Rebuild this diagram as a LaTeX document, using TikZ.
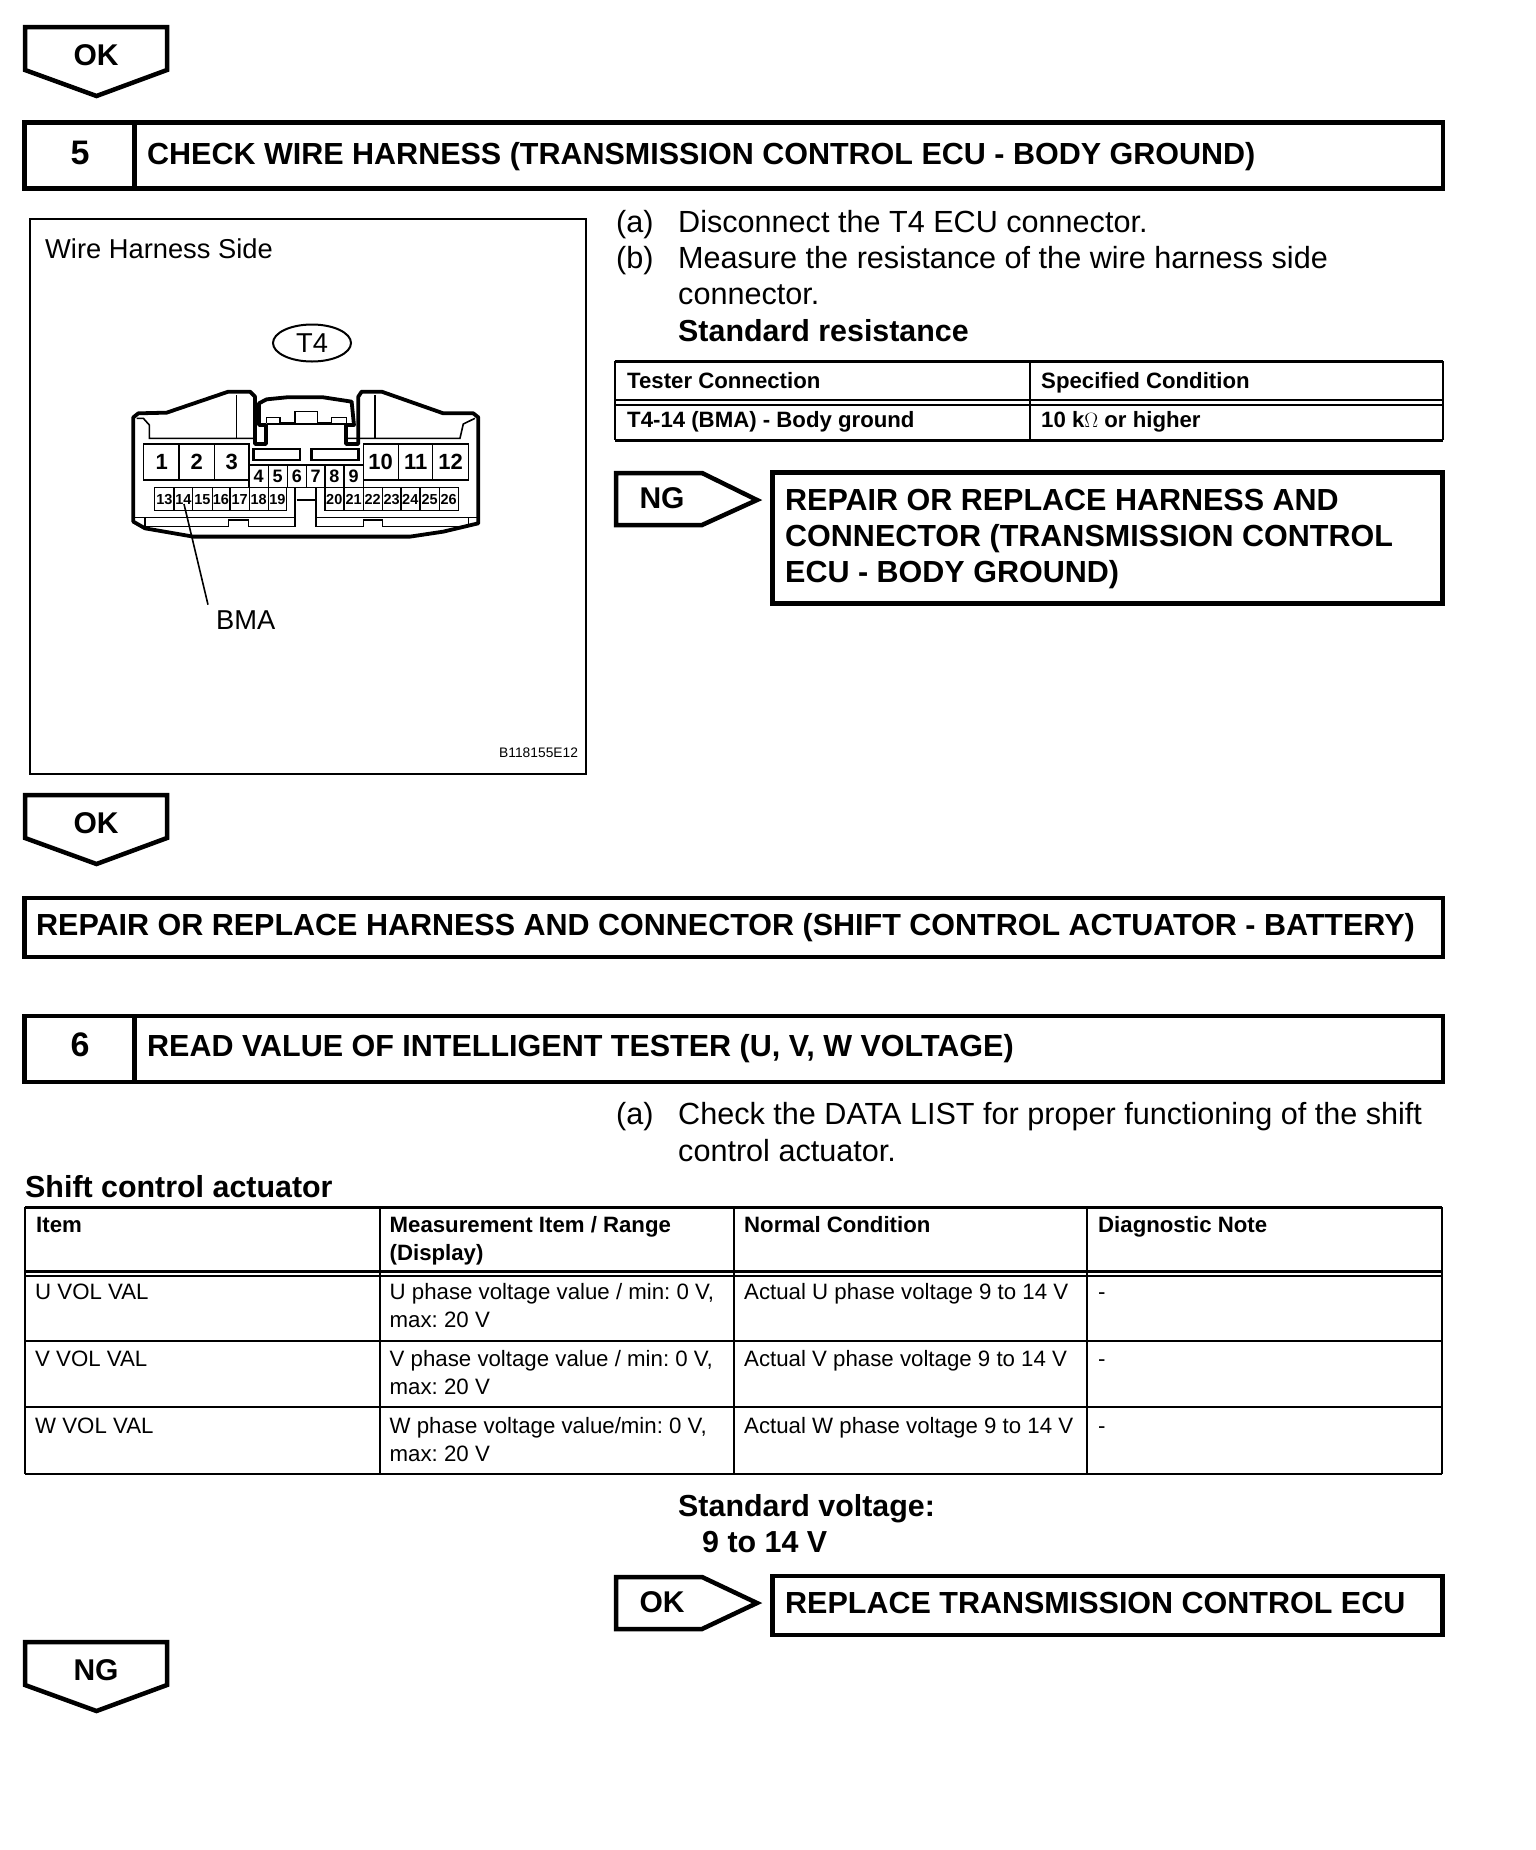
\documentclass[tikz,border=0pt]{standalone}
\usepackage{fontspec}
\usetikzlibrary{shapes.geometric}
\setmainfont{Liberation Sans}
\begin{document}
\frenchspacing
\begin{tikzpicture}[x=1pt,y=-1pt]
  \tikzset{
    tag/.style={font=\bfseries\fontsize{30}{36}\selectfont,inner sep=0pt},
    stepnum/.style={font=\bfseries\fontsize{34}{40}\selectfont,inner sep=0pt},
    boxtitle/.style={font=\bfseries\fontsize{30.5}{36}\selectfont,anchor=base west,inner sep=0pt},
    instr/.style={font=\fontsize{30.6}{36}\selectfont,anchor=base west,inner sep=0pt},
    instrbold/.style={font=\bfseries\fontsize{30.4}{36}\selectfont,anchor=base west,inner sep=0pt},
    figtext/.style={font=\fontsize{27.3}{32}\selectfont,anchor=base west,inner sep=0pt},
    cellhead/.style={font=\bfseries\fontsize{22.2}{26}\selectfont,anchor=base west,inner sep=0pt},
    cellbody/.style={font=\fontsize{22.25}{26}\selectfont,anchor=base west,inner sep=0pt},
    thickbox/.style={draw=black,line width=4.5pt},
    tabheavy/.style={draw=black,line width=3pt},
    tabthin/.style={draw=black,line width=2pt},
    wire/.style={draw=black,line width=1.6pt},
    shell/.style={draw=black,line width=3.8pt,line join=round},
    pinbig/.style={font=\bfseries\fontsize{22}{24}\selectfont,inner sep=0pt},
    pinmid/.style={font=\bfseries\fontsize{18}{20}\selectfont,inner sep=0pt},
    pinsmall/.style={font=\bfseries\fontsize{14.5}{16}\selectfont,inner sep=0pt},
  }
  \useasboundingbox[fill=white] (0,0) rectangle (1536,1850);

  % Step 5 header with the tag above it.
  \draw[thickbox] (25,27) -- (167,27) -- (167,70) -- (96.5,96) -- (25,70) -- cycle;
  \node[tag,anchor=base] (oktop) at (96,65) {OK};
  \draw[thickbox] (24.5,122.5) rectangle (1443,188.5);
  \draw[thickbox] (134.5,122.5) -- (134.5,188.5);
  \node[stepnum,anchor=base] (numfive) at (80,164) {5};
  \node[boxtitle] (titlefive) at (147,164) {CHECK WIRE HARNESS (TRANSMISSION CONTROL ECU - BODY GROUND)};

  % Picture frame.
  \draw[black,line width=2pt] (30,219) rectangle (586,774);
  \node[figtext] (wireside) at (45,258) {Wire Harness Side};
  \node[draw,ellipse,line width=2pt,minimum width=78pt,minimum height=37pt,inner sep=0pt,
    font=\fontsize{27.3}{32}\selectfont] (tfour) at (312,343) {T4};
  \node[cellbody,font=\fontsize{13.8}{15}\selectfont] (figcode) at (499,757) {B118155E12};

  % Connector, in the crop's units: origin=(110,300), 3 units per px.
  \begin{scope}[shift={(110,300)},x=0.3333pt,y=-0.3333pt]
    % Shell.
    \draw[shell] (170,338) -- (355,275) -- (420,275) -- (435,290) -- (435,432) -- (468,432)
      -- (468,375) -- (447,375) -- (447,310) -- (470,298) -- (530,292) -- (640,292)
      -- (725,305) -- (732,375) -- (708,375) -- (708,432) -- (745,432) -- (745,290)
      -- (755,275) -- (815,275) -- (1000,340) -- (1090,340) -- (1105,352) -- (1105,670)
      -- (1000,695) -- (900,710) -- (250,710) -- (105,685) -- (70,665) -- (70,352)
      -- (85,340) -- cycle;
    \draw[wire] (80,355) -- (100,355) -- (118,375) -- (118,415) -- (435,415);
    \draw[wire] (380,285) -- (380,415);
    \draw[wire] (795,285) -- (795,415);
    \draw[wire] (708,415) -- (1050,415) -- (1060,372) -- (1095,355);
    % Clip.
    \draw[wire] (470,368) -- (470,352) -- (510,352) -- (510,368) -- (555,368) -- (555,335)
      -- (622,335) -- (622,368) -- (665,368) -- (665,352) -- (710,352) -- (710,368);
    \draw[wire] (470,372) -- (710,372);
    \draw[black,line width=2.4pt] (430,447) rectangle (570,480);
    \draw[black,line width=2.4pt] (605,447) rectangle (745,480);

    % Row of large cavities.
    \draw[wire] (100,432) rectangle (417,540);
    \draw[wire] (760,432) rectangle (1075,540);
    \foreach \xx in {207,313,865,968} {
      \draw[wire] (\xx,432) -- (\xx,540);
    }
    \foreach \xx/\name in {155/1,260/2,365/3,812/10,917/11,1022/12} {
      \node[pinbig] (pin\name) at (\xx,486) {\name};
    }

    % Middle row.
    \draw[wire] (417,495) rectangle (760,562);
    \foreach \xx in {475,532,590,645,702} {
      \draw[wire] (\xx,495) -- (\xx,562);
    }
    \foreach \xx/\name in {446/4,503/5,561/6,617/7,673/8,731/9} {
      \node[pinmid] (pin\name) at (\xx,528) {\name};
    }

    % Small row.
    \draw[wire] (133,562) rectangle (530,632);
    \draw[wire] (645,562) rectangle (1045,632);
    \foreach \xx in {192,247,307,360,418,475,702,760,817,873,930,988} {
      \draw[wire] (\xx,562) -- (\xx,632);
    }
    \foreach \xx/\name in {163/13,220/14,277/15,333/16,389/17,446/18,502/19,673/20,731/21,788/22,845/23,901/24,959/25,1016/26} {
      \node[pinsmall] (pin\name) at (\xx,598) {\name};
    }

    % Lower edge.
    \draw[wire] (70,652) -- (555,652);
    \draw[wire] (618,652) -- (1105,652);
    \draw[wire] (105,655) -- (105,680) -- (355,680) -- (355,660) -- (415,660) -- (415,680)
      -- (555,680) -- (555,565);
    \draw[wire] (618,565) -- (618,680) -- (760,680) -- (760,660) -- (818,660) -- (818,680)
      -- (1075,680) -- (1075,655);
    \draw[wire] (560,600) -- (615,600);

    % Leader to the label.
    \coordinate (leadtop) at (222,612);
    \coordinate (leadend) at (294,914);
    \draw[black,line width=1.6pt] (leadtop) -- (leadend);
  \end{scope}
  \node[figtext] (bma) at (216,629) {BMA};

  % Instructions, step 5.
  \node[instr] (afive) at (616,232) {(a)};
  \node[instr] (afivetxt) at (678,232) {Disconnect the T4 ECU connector.};
  \node[instr] (bfive) at (616,268) {(b)};
  \node[instr] (bfivetxt) at (678,268) {Measure the resistance of the wire harness side};
  \node[instr] (bfivecont) at (678,304) {connector.};
  \node[instrbold] (stdres) at (678,341) {Standard resistance};

  % Tester table.
  \draw[tabheavy] (615,361.5) -- (1443,361.5);
  \draw[tabthin] (615,400) -- (1443,400);
  \draw[tabthin] (615,405) -- (1443,405);
  \draw[tabheavy] (615,440) -- (1443,440);
  \foreach \xx in {615,1030,1443} {
    \draw[tabthin] (\xx,361) -- (\xx,440);
  }
  \node[cellhead] (testhead) at (627,388) {Tester Connection};
  \node[cellhead] (spechead) at (1041,388) {Specified Condition};
  \node[cellhead] (testval) at (627,427) {T4-14 (BMA) - Body ground};
  \node[cellhead] (specval) at (1041,427) {10 k$\Omega$ or higher};

  % NG to the repair box.
  \draw[thickbox] (616,473) -- (702,473) -- (757,500) -- (702,525) -- (616,525) -- cycle;
  \node[tag,anchor=base] (ngright) at (662,508) {NG};
  \draw[thickbox] (772.5,472.5) rectangle (1442.5,603.5);
  \node[boxtitle] (repairone) at (785,510) {REPAIR OR REPLACE HARNESS AND};
  \node[boxtitle] (repairtwo) at (785,546) {CONNECTOR (TRANSMISSION CONTROL};
  \node[boxtitle] (repairthree) at (785,582) {ECU - BODY GROUND)};

  % OK tag and the battery repair bar.
  \draw[thickbox] (25,795) -- (167,795) -- (167,838) -- (96.5,864) -- (25,838) -- cycle;
  \node[tag,anchor=base] (okmid) at (96,833) {OK};
  \draw[thickbox] (24.5,898) rectangle (1443,957);
  \node[boxtitle] (repairbar) at (36,935) {REPAIR OR REPLACE HARNESS AND CONNECTOR (SHIFT CONTROL ACTUATOR - BATTERY)};

  % Step 6 header.
  \draw[thickbox] (24.5,1016) rectangle (1443,1082);
  \draw[thickbox] (134.5,1016) -- (134.5,1082);
  \node[stepnum,anchor=base] (numsix) at (80,1056) {6};
  \node[boxtitle] (titlesix) at (147,1056) {READ VALUE OF INTELLIGENT TESTER (U, V, W VOLTAGE)};
  \node[instr] (asix) at (616,1124) {(a)};
  \node[instr] (asixtxt) at (678,1124) {Check the DATA LIST for proper functioning of the shift};
  \node[instr] (asixcont) at (678,1161) {control actuator.};
  \node[instrbold] (shiftcap) at (25,1197) {Shift control actuator};

  % Data list table.
  \draw[tabheavy] (25,1207.5) -- (1442,1207.5);
  \draw[tabheavy] (25,1271) -- (1442,1271);
  \draw[tabthin] (25,1276) -- (1442,1276);
  \foreach \yy in {1341,1407,1474} {
    \draw[tabthin] (25,\yy) -- (1442,\yy);
  }
  \foreach \xx in {25,379.5,733.5,1087,1442} {
    \draw[tabthin] (\xx,1207) -- (\xx,1474);
  }
  \node[cellhead] (colone) at (36,1232) {Item};
  \node[cellhead] (coltwo) at (389.5,1232) {Measurement Item / Range};
  \node[cellhead] (coltwob) at (389.5,1260) {(Display)};
  \node[cellhead] (colthree) at (744,1232) {Normal Condition};
  \node[cellhead] (colfour) at (1098,1232) {Diagnostic Note};
  \foreach \yy/\ph in {1299/U,1366/V,1433/W} {
    \node[cellbody] (item\ph) at (35,\yy) {\ph{} VOL VAL};
    \node[cellbody] (rangeb\ph) at (389.5,\yy+28) {max: 20 V};
    \node[cellbody] (cond\ph) at (744,\yy) {Actual \ph{} phase voltage 9 to 14 V};
    \node[cellbody] (note\ph) at (1098,\yy) {-};
  }
  \node[cellbody] (rangeU) at (389.5,1299) {U phase voltage value / min: 0 V,};
  \node[cellbody] (rangeV) at (389.5,1366) {V phase voltage value / min: 0 V,};
  \node[cellbody] (rangeW) at (389.5,1433) {W phase voltage value/min: 0 V,};

  % Standard voltage and the replace box.
  \node[instrbold] (stdvolt) at (678,1516) {Standard voltage:};
  \node[instrbold] (stdvalue) at (702,1552) {9 to 14 V};
  \draw[thickbox] (616,1577) -- (702,1577) -- (757,1603) -- (702,1629) -- (616,1629) -- cycle;
  \node[tag,anchor=base] (okright) at (662,1612) {OK};
  \draw[thickbox] (772.5,1576) rectangle (1442.5,1635);
  \node[boxtitle] (replaceecu) at (785,1613) {REPLACE TRANSMISSION CONTROL ECU};

  % NG tag at the foot.
  \draw[thickbox] (25,1642) -- (167,1642) -- (167,1685) -- (96.5,1711) -- (25,1685) -- cycle;
  \node[tag,anchor=base] (ngfoot) at (96,1680) {NG};
\end{tikzpicture}
\end{document}
